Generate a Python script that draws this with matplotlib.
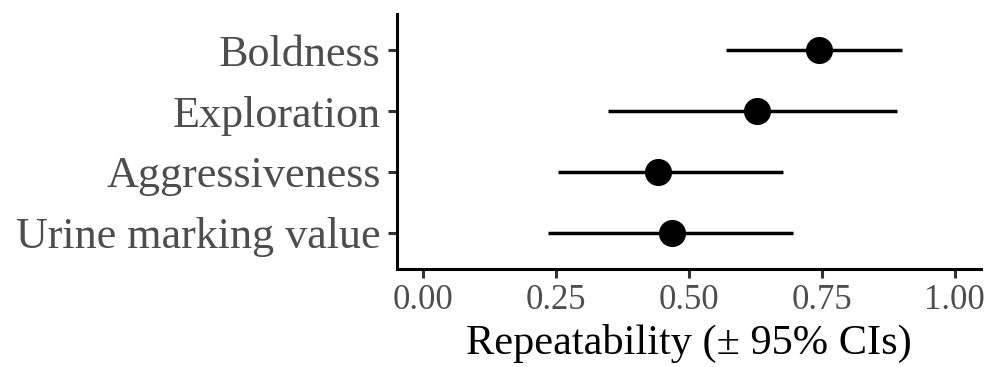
import matplotlib
matplotlib.use("Agg")
import matplotlib.pyplot as plt

# repeatability estimates with 95% CIs
traits = ["Boldness", "Exploration", "Aggressiveness", "Urine marking value"]
estimate = [0.744, 0.629, 0.442, 0.469]
ci_low = [0.570, 0.347, 0.254, 0.234]
ci_high = [0.901, 0.891, 0.678, 0.695]
xticks = [0.00, 0.25, 0.50, 0.75, 1.00]

plt.rcParams['font.family'] = ['Liberation Serif', 'DejaVu Serif']

fig = plt.figure(figsize=(9.87, 3.67), dpi=100)
ax = fig.add_axes([0.402, 0.267, 0.592, 0.695])

# top of plot is first trait
ypos = list(range(len(traits), 0, -1))

for y, lo, hi in zip(ypos, ci_low, ci_high):
    ax.plot([lo, hi], [y, y], color='black', linewidth=2.5, solid_capstyle='butt', zorder=2)
ax.plot(estimate, ypos, 'o', color='black', markersize=18.5, zorder=3)

ax.set_xlim(-0.05, 1.05)
ax.set_ylim(0.4, len(traits) + 0.6)
ax.set_yticks(ypos)
ax.set_yticklabels(traits)
ax.set_xticks(xticks)
ax.set_xticklabels([f"{t:.2f}" for t in xticks])

for side in ['top', 'right']:
    ax.spines[side].set_visible(False)
for side in ['left', 'bottom']:
    ax.spines[side].set_linewidth(2.2)
    ax.spines[side].set_color('black')

ax.tick_params(axis='both', length=6.5, width=2.2, color='#333333')
ax.tick_params(axis='y', labelsize=31.8, labelcolor='#4D4D4D', pad=5)
ax.tick_params(axis='x', labelsize=25, labelcolor='#4D4D4D', pad=4)

ax.set_xlabel("Repeatability (\u00b1 95% CIs)", fontsize=30.5, color='black', labelpad=5)

fig.savefig("out.png", dpi=100)
